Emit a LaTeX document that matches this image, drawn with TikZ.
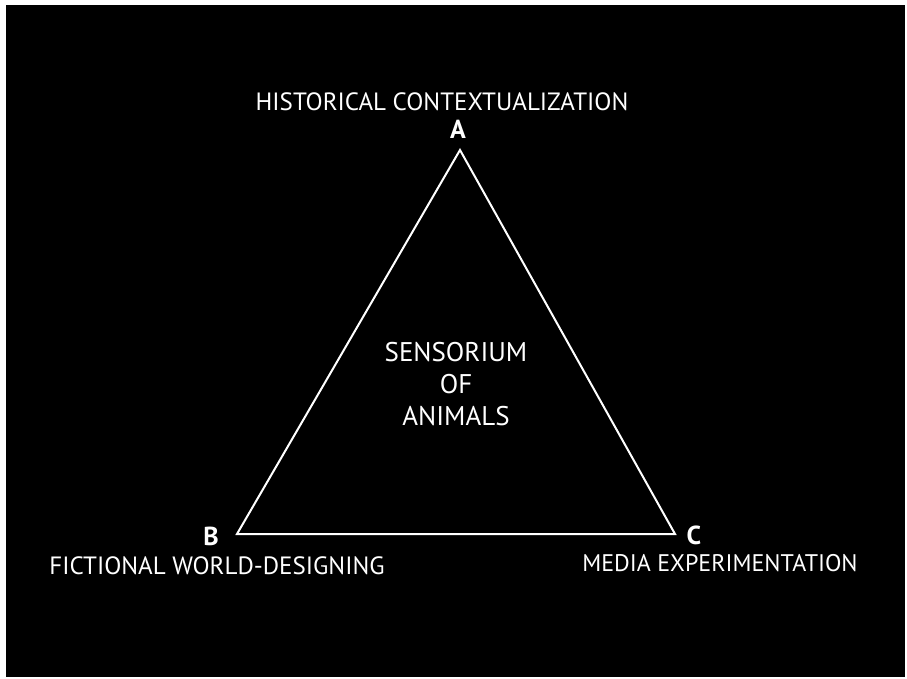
\documentclass[tikz,border=0pt]{standalone}
\usepackage{fontspec}
\setmainfont{PT Sans}
\usetikzlibrary{positioning}

\tikzset{
	label text/.style={text=white, inner sep=0pt, font=\fontsize{25}{28}\selectfont},
	corner text/.style={text=white, inner sep=0pt, font=\bfseries\fontsize{26}{28}\selectfont}
}

\begin{document}
\begin{tikzpicture}[x=1pt,y=-1pt]
	
	% Fondo
	\useasboundingbox (0,0) rectangle (907,678);
	\fill[white] (0,0) rectangle (907,678);
	\fill[black] (6,5) rectangle (905,677);
	
	% Vertices
	\coordinate (A) at (460,150);
	\coordinate (B) at (237,534);
	\coordinate (C) at (675,534);
	
	% Triangulo
	\draw [white, line width=2pt, line join=miter] (A) -- (B) -- (C) -- cycle;
	
	% Letras
	\node[corner text] (letraA) at (458,129) {A};
	\node[corner text] (letraB) at (211,536) {B};
	\node[corner text] (letraC) at (694,535) {C};
	
	% Etiquetas
	\node[label text] (historical) at (442,102) {HISTORICAL CONTEXTUALIZATION};
	\node[label text] (fictional) at (217,566) {FICTIONAL WORLD-DESIGNING};
	\node[label text, font=\fontsize{24}{28}\selectfont] (media) at (720,563) {MEDIA EXPERIMENTATION};
	
	% Centro
	\node[label text, align=center, font=\fontsize{27}{32}\selectfont] (sensorium) at (456,384)
	{
		SENSORIUM \\
		OF \\
		ANIMALS
	};
	
\end{tikzpicture}
\end{document}
